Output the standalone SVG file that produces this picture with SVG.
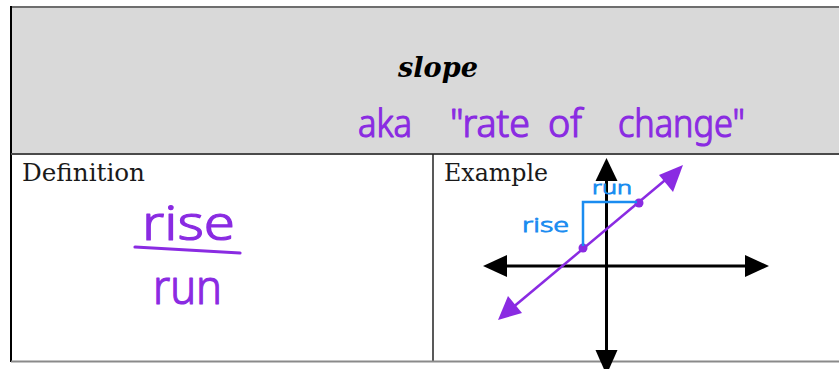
<svg xmlns="http://www.w3.org/2000/svg" width="839" height="369" viewBox="0 0 839 369">
<defs>
<style>
.hand{font-family:"Noto Sans","DejaVu Sans",sans-serif;font-weight:300;fill:#8a2be2;stroke:#8a2be2;stroke-width:1.2;stroke-linejoin:round}
.handb{font-family:"Noto Sans","DejaVu Sans",sans-serif;font-weight:300;fill:#1a8cf0;stroke:#1a8cf0;stroke-width:0.8}
.lbl{font-family:"DejaVu Serif","Liberation Serif",serif;font-size:23.5px;fill:#1a1a1a}
.axis{stroke:#000;stroke-width:3;fill:none}
.head{fill:#000}
.phead{fill:#8a2be2}
</style>
</defs>
<rect x="0" y="0" width="839" height="369" fill="#ffffff"/>
<g id="table">
<rect x="11" y="7" width="830" height="147" fill="#d9d9d9"/>
<line x1="10" y1="7" x2="839" y2="7" stroke="#6e6e6e" stroke-width="2"/>
<line x1="11" y1="6" x2="11" y2="362" stroke="#000" stroke-width="2"/>
<line x1="11" y1="154" x2="839" y2="154" stroke="#4a4a4a" stroke-width="2"/>
<line x1="433" y1="154" x2="433" y2="362" stroke="#222" stroke-width="1.5"/>
<line x1="11" y1="361.5" x2="839" y2="361.5" stroke="#8a8a8a" stroke-width="2"/>
</g>
<g id="header">
<text x="398" y="77" font-family="DejaVu Serif,serif" font-weight="bold" font-style="italic" font-size="27" textLength="80" lengthAdjust="spacingAndGlyphs" fill="#000">slope</text>
<text class="hand" y="137" font-size="38"><tspan x="358" textLength="54" lengthAdjust="spacingAndGlyphs">aka</tspan> <tspan x="450" textLength="80" lengthAdjust="spacingAndGlyphs">"rate</tspan> <tspan x="548" textLength="34" lengthAdjust="spacingAndGlyphs">of</tspan> <tspan x="618" textLength="127" lengthAdjust="spacingAndGlyphs">change"</tspan></text>
</g>
<g id="definition">
<text class="lbl" x="22" y="181" textLength="123" lengthAdjust="spacingAndGlyphs">Definition</text>
<text class="hand" x="142" y="240" font-size="48" textLength="93" lengthAdjust="spacingAndGlyphs">rise</text>
<path d="M135,247 L240,253" stroke="#8a2be2" stroke-width="3.2" stroke-linecap="round" fill="none"/>
<text class="hand" x="153" y="304" font-size="48" textLength="69" lengthAdjust="spacingAndGlyphs">run</text>
</g>
<g id="example">
<text class="lbl" x="444" y="181" textLength="104" lengthAdjust="spacingAndGlyphs">Example</text>
</g>
<g id="axes">
<line class="axis" x1="606.5" y1="176" x2="606.5" y2="355"/>
<polygon class="head" points="606.5,158 595.5,181 617.5,181"/>
<polygon class="head" points="606.5,375 595.5,350 617.5,350"/>
<line class="axis" x1="500" y1="266" x2="750" y2="266"/>
<polygon class="head" points="483,266 507,255 507,277"/>
<polygon class="head" points="769,266 745,255 745,277"/>
</g>
<g id="line">
<line x1="508" y1="311.5" x2="673" y2="173.5" stroke="#8a2be2" stroke-width="2.5"/>
<polygon class="phead" points="498,320 508,296 522,313"/>
<polygon class="phead" points="683,165 659,175 673,192"/>
<circle cx="583" cy="248" r="4.5" fill="#8a2be2"/>
<circle cx="639" cy="203" r="4.5" fill="#8a2be2"/>
</g>
<g id="rise-run">
<polyline points="583,246 583,202 637,202" fill="none" stroke="#1a8cf0" stroke-width="2.5"/>
<text class="handb" x="522" y="232" font-size="20" textLength="47" lengthAdjust="spacingAndGlyphs">rise</text>
<text class="handb" x="592" y="194" font-size="18" textLength="40" lengthAdjust="spacingAndGlyphs">run</text>
</g>
</svg>
